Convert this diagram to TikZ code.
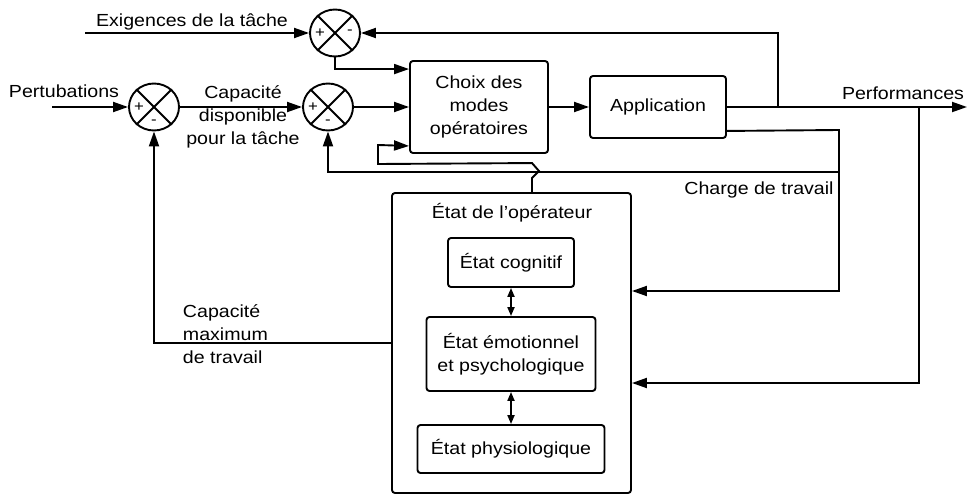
\documentclass[tikz,border=0pt]{standalone}
\usepackage{fontspec}
\setmainfont[FakeStretch=1.12]{Liberation Sans}
\usetikzlibrary{arrows.meta,calc,shapes.geometric}
\begin{document}
\begin{tikzpicture}[x=1pt,y=-1pt,
  line width=1.9pt,
  every node/.style={font=\fontsize{17.5}{23}\selectfont},
  arr/.style={-{Triangle[length=15pt,width=10pt]}},
  darr/.style={{Triangle[length=9pt,width=7pt]}-{Triangle[length=9pt,width=7pt]}},
  blk/.style={draw, rounded corners=3pt, align=center, inner sep=0pt},
  sumj/.style={draw, ellipse, minimum width=50pt, minimum height=47pt, inner sep=0pt},
  lbl/.style={align=center, inner sep=0pt},
  sgn/.style={inner sep=0pt, font=\fontsize{15}{15}\selectfont},
]
\useasboundingbox (0,0) rectangle (971,495);

% summing junctions
\node[sumj] (s1) at (335,33) {};
\node[sumj] (s2) at (154,107) {};
\node[sumj] (s3) at (328,107) {};
\foreach \s in {s1,s2,s3}{
  \draw (\s.45) -- (\s.225);
  \draw (\s.135) -- (\s.315);
}
\node[sgn] (s1p) at ($(s1)+(-15,0)$) {+};
\node[sgn] (s1m) at ($(s1)+(15,-1)$) {-};
\node[sgn] (s2p) at ($(s2)+(-15,0)$) {+};
\node[sgn] (s2m) at ($(s2)+(0,15)$) {-};
\node[sgn] (s3p) at ($(s3)+(-15,0)$) {+};
\node[sgn] (s3m) at ($(s3)+(0,15)$) {-};

% blocks
\node[blk, minimum width=138pt, minimum height=92pt] (choix) at (479,107) {Choix des\\modes\\opératoires};
\node[blk, minimum width=136pt, minimum height=62pt] (app) at (658,107) {Application};
\node[blk, minimum width=239pt, minimum height=300pt] (etat) at (511.5,343) {};
\node[lbl] (let) at (512,213) {État de l'opérateur};
\node[blk, minimum width=126pt, minimum height=49pt] (cog) at (511,262.5) {État cognitif};
\node[blk, minimum width=169pt, minimum height=74pt] (emo) at (511,354) {État émotionnel\\et psychologique};
\node[blk, minimum width=187pt, minimum height=48pt] (phy) at (511,449) {État physiologique};

% labels
\node[lbl] (lex) at (192,22) {Exigences de la tâche};
\node[lbl] (lpe) at (64,91) {Pertubations};
\node[lbl] (lcd) at (243,117) {Capacité\\disponible\\pour la tâche};
\node[lbl, align=left, anchor=west] (lcm) at (182,334) {Capacité\\maximum\\de travail};
\node[lbl] (lpf) at (903,93) {Performances};
\node[lbl] (lcw) at (759,190) {Charge de travail};

% coordinates
\coordinate (exin) at (85,33);
\coordinate (pin) at (52,107);
\coordinate (c70) at ($(choix.north west)+(0,9)$);
\coordinate (cf) at ($(choix.south west)+(0,-8)$);
\coordinate (perf) at (967,107);
\coordinate (tap1) at (778,107);
\coordinate (ch1) at ($(app.south east)+(0,-8)$);
\coordinate (chc) at (839,130);
\coordinate (chb) at (839,172);
\coordinate (chd) at (839,291);
\coordinate (pb) at (919,107);
\coordinate (pd) at (919,383);
\coordinate (et) at ($(etat.north)+(20.5,0)$);

% connectors
\draw[arr] (exin) -- (s1.west);
\draw[arr] (pin) -- (s2.west);
\draw[arr] (s2.east) -- (s3.west);
\draw[arr] (s3.east) -- (choix.west);
\draw[arr] (s1.south) |- (c70);
\draw[arr] (choix.east) -- (app.west);
\draw[arr] (app.east) -- (perf);
\draw[arr] (tap1) |- (s1.east);
\draw[arr] (ch1) -- (chc) -- (chd) -- (etat.east |- chd);
\draw[arr] (chb) -| (s3.south);
\draw[arr] (pb) -- (pd) -- (etat.east |- pd);
\draw[arr] (etat.west) -| (s2.south);
\draw[arr] (et) -- ++(0,-14) -- ++(7,-7) -- ++(-7,-8) -- (378,164) -- (378,145) -- (cf);
\draw[darr] (cog.south) -- (emo.north);
\draw[darr] (emo.south) -- (phy.north);
\end{tikzpicture}
\end{document}
